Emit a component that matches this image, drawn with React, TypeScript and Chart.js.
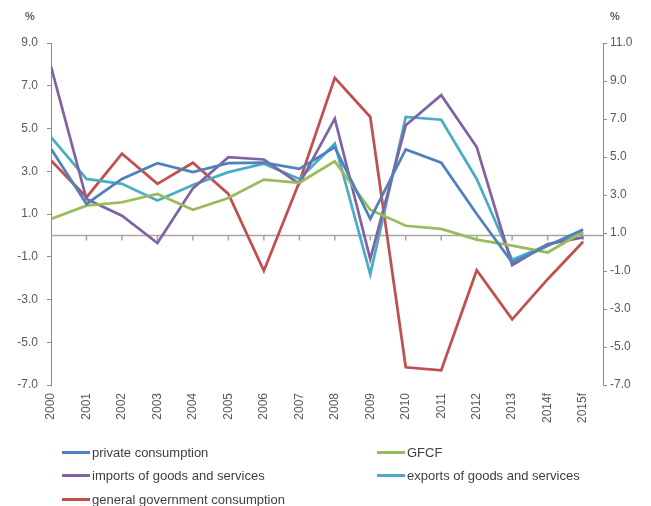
import React, { useEffect, useRef } from "react";
import { Chart, registerables } from "chart.js";

Chart.register(...registerables);

const categories = ["2000", "2001", "2002", "2003", "2004", "2005", "2006", "2007", "2008", "2009", "2010", "2011", "2012", "2013", "2014f", "2015f"];
const privateConsumption = [4.05, 1.47, 2.64, 3.38, 2.96, 3.38, 3.4, 3.11, 4.13, 0.77, 4.02, 3.4, 1.0, -1.27, -0.48, 0.27];
const gfcf = [0.77, 1.39, 1.55, 1.94, 1.2, 1.75, 2.61, 2.46, 3.46, 1.2, 0.45, 0.3, -0.2, -0.48, -0.8, 0.17];
const importsGS = [7.9, 1.7, 0.92, -0.36, 2.2, 3.66, 3.55, 2.41, 5.46, -1.11, 5.15, 6.56, 4.13, -1.39, -0.41, -0.09];
const exportsGS = [4.6, 2.64, 2.41, 1.63, 2.36, 2.96, 3.35, 2.64, 4.29, -1.82, 5.54, 5.41, 2.64, -1.14, -0.45, 0.11];
const govConsumption = [3.5, 1.78, 3.82, 2.41, 3.4, 1.94, -1.66, 2.5, 7.37, 5.54, -6.17, -6.31, -1.63, -3.93, -2.05, -0.3];

const leftTicks = { min: -7, max: 9, step: 2 };
const rightTicks = { min: -7, max: 11, step: 2 };

const series = [
  { label: "private consumption", values: privateConsumption, color: "#4F81BD" },
  { label: "GFCF", values: gfcf, color: "#9BBB59" },
  { label: "imports of goods and services", values: importsGS, color: "#8064A2" },
  { label: "exports of goods and services", values: exportsGS, color: "#4BACC6" },
  { label: "general government consumption", values: govConsumption, color: "#C0504D" },
];

const FONT = "'Liberation Sans', Arial, sans-serif";
const AXIS_COLOR = "#8c8c8c";
const TICK_TEXT = "#595959";

export default function App() {
  const ref = useRef<HTMLCanvasElement>(null);

  useEffect(() => {
    if (!ref.current) return;
    const zeroLine = {
      id: "zeroLine",
      beforeDatasetsDraw(chart: any) {
        const { ctx, chartArea } = chart;
        const x = chart.scales.x;
        const y = chart.scales.y;
        const y0 = y.getPixelForValue(0);
        ctx.save();
        ctx.strokeStyle = "#a6a6a6";
        ctx.lineWidth = 1.5;
        ctx.beginPath();
        ctx.moveTo(chartArea.left, y0);
        ctx.lineTo(chartArea.right, y0);
        categories.forEach((_, i) => {
          if (i === 0) return;
          const px = x.getPixelForValue(i);
          ctx.moveTo(px, y0);
          ctx.lineTo(px, y0 + 5);
        });
        ctx.stroke();
        ctx.restore();
      },
    };

    const chart = new Chart(ref.current, {
      type: "line",
      data: {
        datasets: series.map((s) => ({
          label: s.label,
          data: s.values.map((v, i) => ({ x: i, y: v })),
          borderColor: s.color,
          backgroundColor: s.color,
          borderWidth: 2.75,
          pointRadius: 0,
          tension: 0,
          yAxisID: "y",
        })),
      },
      options: {
        animation: false,
        responsive: false,
        maintainAspectRatio: false,
        layout: { padding: { top: 43, left: 0, right: 0, bottom: 0 } },
        plugins: { legend: { display: false }, tooltip: { enabled: false } },
        scales: {
          x: {
            type: "linear",
            min: 0,
            max: 15.56,
            afterBuildTicks: (s: any) => {
              s.ticks = categories.map((_, i) => ({ value: i }));
            },
            afterFit: (s: any) => {
              s.height = 121;
            },
            grid: { display: false, drawTicks: false },
            border: { display: false },
            ticks: {
              minRotation: 90,
              maxRotation: 90,
              autoSkip: false,
              padding: 8,
              color: TICK_TEXT,
              font: { family: FONT, size: 12 },
              callback: (v: any) => categories[v as number],
            },
          },
          y: {
            position: "left",
            min: leftTicks.min,
            max: leftTicks.max,
            afterFit: (s: any) => {
              s.width = 51;
            },
            grid: { drawOnChartArea: false, tickLength: 4, color: AXIS_COLOR },
            border: { color: AXIS_COLOR },
            ticks: {
              stepSize: leftTicks.step,
              padding: 9,
              color: TICK_TEXT,
              font: { family: FONT, size: 12 },
              callback: (v: any) => Number(v).toFixed(1),
            },
          },
          y2: {
            position: "right",
            min: rightTicks.min,
            max: rightTicks.max,
            afterFit: (s: any) => {
              s.width = 48;
            },
            grid: { drawOnChartArea: false, tickLength: 4, color: AXIS_COLOR },
            border: { color: AXIS_COLOR },
            ticks: {
              stepSize: rightTicks.step,
              padding: 3,
              color: TICK_TEXT,
              font: { family: FONT, size: 12 },
              callback: (v: any) => Number(v).toFixed(1),
            },
          },
        },
      } as any,
      plugins: [zeroLine],
    });
    return () => chart.destroy();
  }, []);

  const legendPos = [
    { left: 62, top: 452 },
    { left: 377, top: 452 },
    { left: 62, top: 475 },
    { left: 377, top: 475 },
    { left: 62, top: 499 },
  ];

  return (
    <div style={{ position: "absolute", left: 0, top: 0, width: 651, height: 506, overflow: "hidden", background: "#fff" }}>
      <canvas ref={ref} width={651} height={506} style={{ display: "block", width: 651, height: 506 }} />
      <div style={{ position: "absolute", left: 25, top: 10, font: `bold 11px ${FONT}`, color: "#595959" }}>%</div>
      <div style={{ position: "absolute", left: 610, top: 10, font: `bold 11px ${FONT}`, color: "#595959" }}>%</div>
      {series.map((s, i) => (
        <div
          key={s.label}
          style={{
            position: "absolute",
            left: legendPos[i].left,
            top: legendPos[i].top - 8,
            height: 16,
            display: "flex",
            alignItems: "center",
            whiteSpace: "nowrap",
            font: `13px ${FONT}`,
            color: "#404040",
          }}
        >
          <span style={{ display: "inline-block", width: 28, height: 3, background: s.color, marginRight: 2 }} />
          <span>{s.label}</span>
        </div>
      ))}
    </div>
  );
}
